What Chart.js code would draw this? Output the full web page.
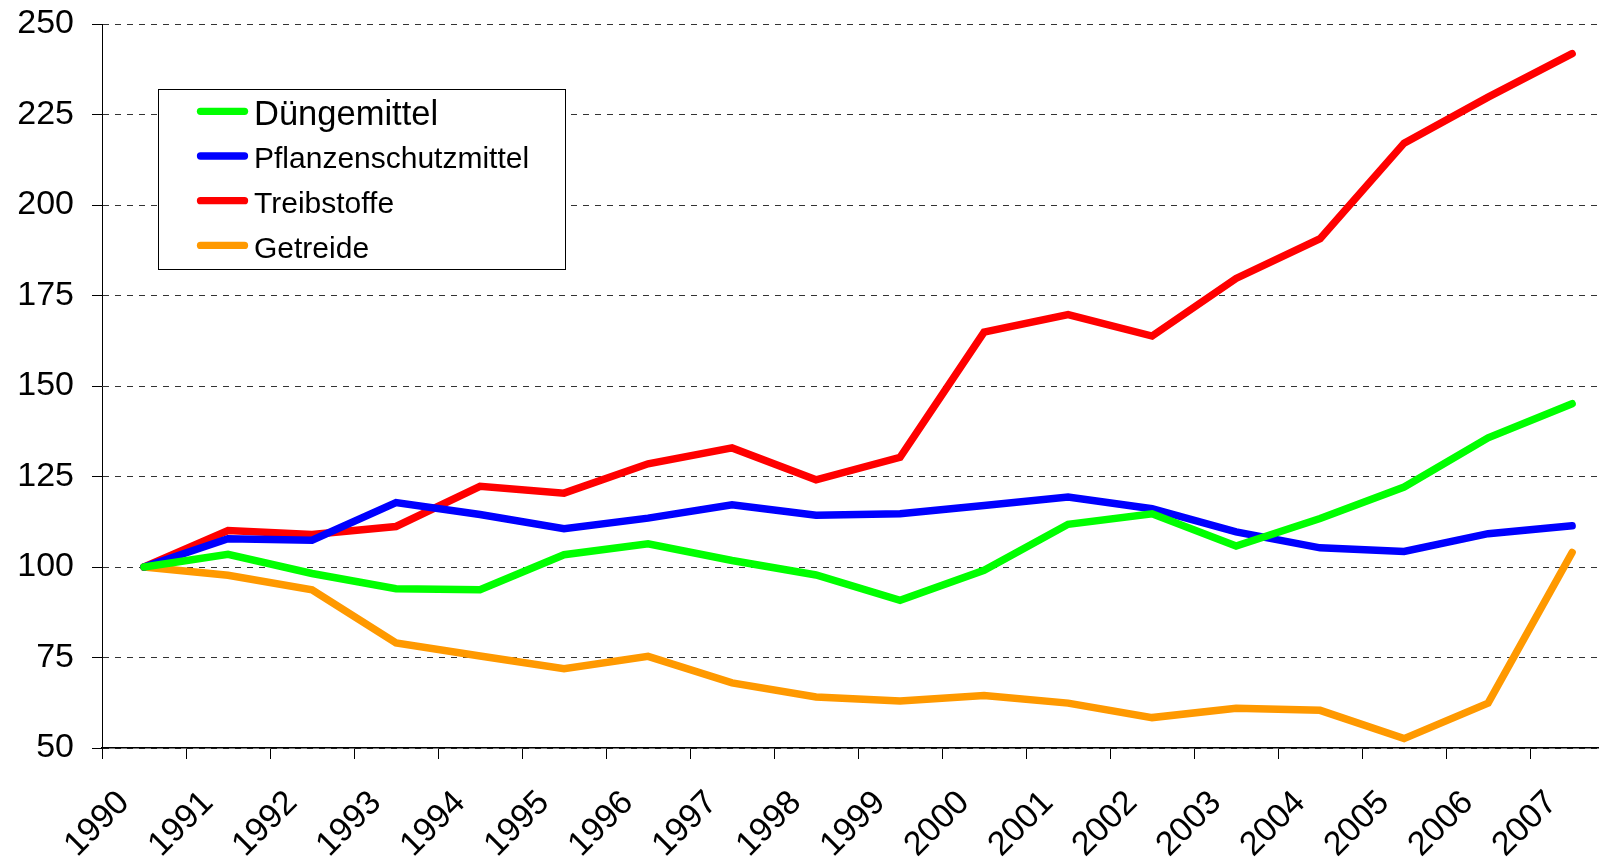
<!DOCTYPE html>
<html>
<head>
<meta charset="utf-8">
<script src="https://cdn.jsdelivr.net/npm/chart.js@4"></script>
<style>
html,body{margin:0;padding:0;background:#fff;}
#wrap{width:1599px;height:860px;position:relative;}
</style>
</head>
<body>
<div id="wrap"><canvas id="c" width="1599" height="860"></canvas></div>
<script>
const years = ['1990','1991','1992','1993','1994','1995','1996','1997','1998','1999','2000','2001','2002','2003','2004','2005','2006','2007'];
const duengemittel = [100,103.5,98.2,94.0,93.7,103.4,106.4,101.8,97.8,90.8,99.1,111.8,114.7,105.8,113.4,122.1,135.7,145.1];
const pflanzenschutz = [100,107.8,107.4,117.8,114.5,110.6,113.5,117.2,114.3,114.7,117.0,119.3,116.1,109.7,105.3,104.3,109.2,111.4];
const treibstoffe = [100,110.1,109.0,111.2,122.3,120.4,128.5,132.9,124.1,130.3,164.9,169.7,163.8,179.7,190.7,217.1,229.8,241.8];
const getreide = [100,97.7,93.7,79.0,75.4,71.9,75.3,68.0,64.1,63.0,64.5,62.4,58.4,61.0,60.4,52.6,62.4,104.0];
const yTicks = [50,75,100,125,150,175,200,225,250];

const toPts = arr => arr.map((v,i)=>({x:i+0.5,y:v}));

const mkDs = (label, data, color) => ({
  label, data: toPts(data), borderColor: color, backgroundColor: color,
  borderWidth: 7.5, pointRadius: 0, fill: false, tension: 0,
  borderCapStyle: 'round', borderJoinStyle: 'miter'
});

const legendPlugin = {
  id: 'boxLegend',
  afterDraw(chart) {
    const ctx = chart.ctx;
    ctx.save();
    const x0 = 158.5, y0 = 89.5, w = 407, h = 180;
    ctx.fillStyle = '#fff';
    ctx.fillRect(x0, y0, w, h);
    ctx.strokeStyle = '#000';
    ctx.lineWidth = 1;
    ctx.strokeRect(x0, y0, w, h);
    const rows = [111.3, 156, 200.7, 245.4];
    const sizes = [34.5, 30, 30, 30];
    chart.data.datasets.forEach((ds, i) => {
      const y = rows[i];
      ctx.strokeStyle = ds.borderColor;
      ctx.lineWidth = 7.3;
      ctx.lineCap = 'round';
      ctx.beginPath();
      ctx.moveTo(200.5, y);
      ctx.lineTo(244.5, y);
      ctx.stroke();
      ctx.fillStyle = '#000';
      ctx.font = sizes[i] + 'px "Liberation Sans", Arial, sans-serif';
      ctx.textBaseline = 'middle';
      ctx.textAlign = 'left';
      ctx.fillText(ds.label, 254, y + 4);
    });
    ctx.restore();
  }
};

new Chart(document.getElementById('c'), {
  type: 'line',
  data: {
    datasets: [
      mkDs('Düngemittel', duengemittel, '#00ff00'),
      mkDs('Pflanzenschutzmittel', pflanzenschutz, '#0000ff'),
      mkDs('Treibstoffe', treibstoffe, '#ff0000'),
      mkDs('Getreide', getreide, '#ff9900')
    ]
  },
  options: {
    responsive: false,
    animation: false,
    layout: { padding: { top: 24, right: 0, bottom: 0, left: 0 } },
    plugins: { legend: { display: false }, tooltip: { enabled: false } },
    scales: {
      x: {
        type: 'linear',
        min: 0,
        max: 17.82,
        afterBuildTicks: s => { s.ticks = years.map((y,i)=>({value:i})); },
        afterFit: s => { s.height = 112; s.paddingRight = 0; },
        ticks: {
          autoSkip: false,
          maxRotation: 45, minRotation: 45,
          padding: 24,
          labelOffset: 22,
          color: '#000',
          font: { family: '"Liberation Sans", Arial, sans-serif', size: 34 },
          callback: v => years[v]
        },
        grid: { drawOnChartArea: false, drawTicks: true, tickLength: 11, tickColor: '#000', tickWidth: 1 },
        border: { display: true, color: '#000', width: 1.5 }
      },
      y: {
        min: 50, max: 250,
        afterBuildTicks: s => { s.ticks = yTicks.map(v=>({value:v})); },
        afterFit: s => { s.width = 102; s.paddingTop = 0; s.paddingBottom = 0; },
        ticks: {
          padding: 18,
          color: '#000',
          font: { family: '"Liberation Sans", Arial, sans-serif', size: 34 }
        },
        grid: {
          color: '#333',
          lineWidth: 1,
          tickLength: 10,
          tickColor: '#000',
          tickBorderDash: []
        },
        border: { display: true, color: '#000', width: 1, dash: [6, 6] }
      }
    }
  },
  plugins: [legendPlugin]
});
</script>
</body>
</html>
